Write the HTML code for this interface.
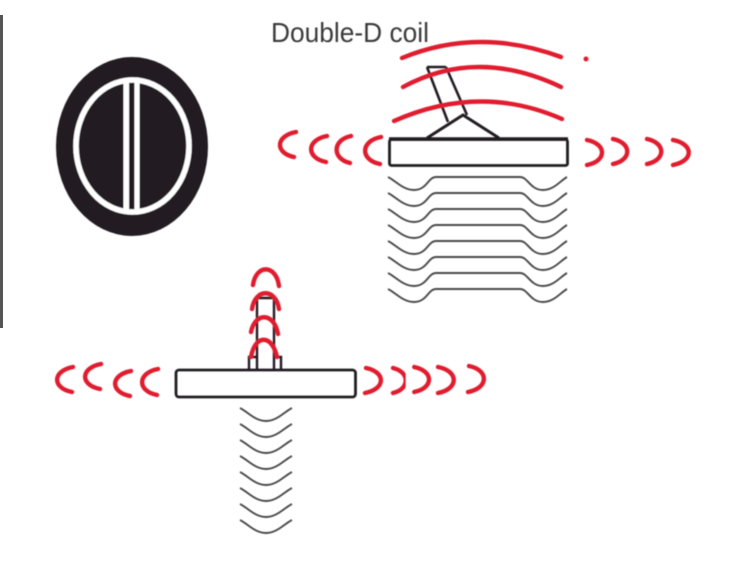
<!DOCTYPE html>
<html>
<head>
<meta charset="utf-8">
<style>
html,body{margin:0;padding:0;background:#fff;width:753px;height:568px;overflow:hidden}
svg{display:block}
.r{fill:none;stroke:#e01f2d;stroke-width:4.4;stroke-linecap:round}
.k{fill:none;stroke:#231f20;stroke-width:2.8}
.w{fill:none;stroke:#4a4a4a;stroke-width:1.9}
</style>
</head>
<body>
<svg width="753" height="568" viewBox="0 0 753 568" xmlns="http://www.w3.org/2000/svg">
<defs>
<filter id="b" x="-5%" y="-5%" width="110%" height="110%"><feGaussianBlur stdDeviation="0.45"/></filter>
<path id="wl" class="w" d="M388 177C396 181 403 190 414 190C427 190 428 177 436 177L520 177C528 177 530 190 543 190C554 190 560 181 567 177"/>
<path id="ws" class="w" d="M240 408C248 412 255 421 266 421C277 421 284 412 292 408"/>
</defs>
<rect width="753" height="568" fill="#fff"/>
<rect x="0" y="15" width="3" height="313" fill="#555"/>
<g filter="url(#b)">

<!-- disc -->
<ellipse cx="132" cy="146.500" rx="76" ry="89.500" fill="#231f20"/>
<ellipse cx="132.500" cy="146" rx="56.500" ry="66" fill="none" stroke="#fff" stroke-width="5.500"/>
<rect x="123.500" y="80" width="5.500" height="132" fill="#fff"/>
<rect x="134.500" y="80" width="5" height="132" fill="#fff"/>

<text x="271" y="42" font-family="'Liberation Sans',sans-serif" font-size="28" fill="#3a3a3a" textLength="158" lengthAdjust="spacingAndGlyphs">Double-D coil</text>

<!-- top right detector -->
<g class="k">
<path d="M427 67H446M427 67L448 122M446 67L467 115" stroke-width="2.600"/>
<path d="M427 138L463 115L499 138" stroke-width="3"/>
<rect x="389.500" y="139.500" width="178" height="26" rx="2"/>
<path d="M389 139H568" stroke-width="3.400"/>
</g>
<use href="#wl"/>
<use href="#wl" y="16"/>
<use href="#wl" y="32"/>
<use href="#wl" y="48"/>
<use href="#wl" y="64"/>
<use href="#wl" y="80"/>
<use href="#wl" y="96"/>
<use href="#wl" y="112"/>

<!-- top right arcs -->
<path class="r" d="M402 58Q478.500 26.500 561 57"/>
<path class="r" d="M403 87Q477 47 561 87"/>
<path class="r" d="M394 121Q480 83 562 119"/>
<circle cx="586" cy="59" r="2.500" fill="#e01f2d"/>
<path class="r" d="M296 132C275 136 275 153 294 157"/>
<path class="r" d="M327 136C306 140 306 158 326 162"/>
<path class="r" d="M351 136C332 140 332 159 350 163"/>
<path class="r" d="M381 137C360 141 360 160 380 164"/>
<path class="r" d="M587 140C607 144 607 161 587 165"/>
<path class="r" d="M613 139C632 143 632 160 613 164"/>
<path class="r" d="M647 139C666 143 666 160 647 164"/>
<path class="r" d="M673 140C694 144 694 161 673 165"/>

<!-- bottom detector -->
<g class="k">
<path d="M257 369V298H274V369M249 369V357H257M274 357H281V369" stroke-width="2.400"/>
<rect x="176" y="370" width="179.500" height="27" rx="3"/>
</g>
<use href="#ws"/>
<use href="#ws" y="16"/>
<use href="#ws" y="32"/>
<use href="#ws" y="48"/>
<use href="#ws" y="64"/>
<use href="#ws" y="80"/>
<use href="#ws" y="96"/>
<use href="#ws" y="112"/>

<!-- bottom arcs -->
<path class="r" d="M253 285C256 264 276 264 279 286"/>
<path class="r" d="M252 309C255 288 276 288 279 309"/>
<path class="r" d="M251 332C255 312 274 312 278 334"/>
<path class="r" d="M251 357C255 334 272 334 277 357"/>
<path class="r" d="M73 367C52 371 52 388 72 392"/>
<path class="r" d="M101 364C80 368 80 385 100 389"/>
<path class="r" d="M131 371C110 375 110 392 130 396"/>
<path class="r" d="M158 369C137 373 137 391 157 395"/>
<path class="r" d="M366 368C386 372 386 389 365 393"/>
<path class="r" d="M393 368C410 372 410 389 393 393"/>
<rect x="406" y="362" width="6" height="36" fill="#fff"/>
<path class="r" d="M414 367C434 371 434 388 414 392"/>
<path class="r" d="M438 367C459 371 459 389 438 393"/>
<path class="r" d="M469 366C489 370 489 388 468 392"/>
</g>
</svg>
</body>
</html>
